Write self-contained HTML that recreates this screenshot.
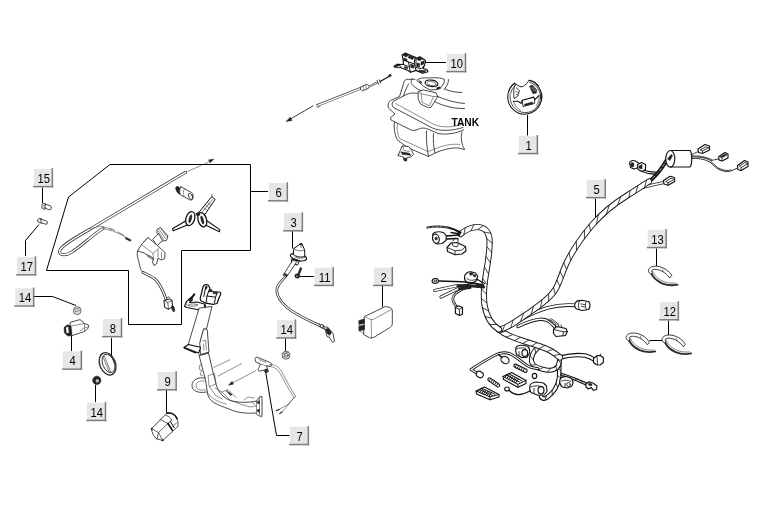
<!DOCTYPE html>
<html><head><meta charset="utf-8"><title>Parts diagram</title>
<style>
html,body{margin:0;padding:0;background:#fff;}
body{width:767px;height:531px;overflow:hidden;font-family:"Liberation Sans",sans-serif;}
svg{display:block;will-change:transform}
.n{font-family:"Liberation Sans",sans-serif;font-size:12.5px;text-anchor:middle;fill:#000}
.L{stroke:#000;stroke-width:1;fill:none}
.p{stroke:#2a2a2a;stroke-width:.85;fill:none;stroke-linecap:round;stroke-linejoin:round}
.pw{stroke:#2a2a2a;stroke-width:.85;fill:#fff;stroke-linecap:round;stroke-linejoin:round}
.pt{stroke:#444;stroke-width:.6;fill:none;stroke-linecap:round;stroke-linejoin:round}
.d{fill:#222;stroke:#222;stroke-width:.6}
.g{fill:#999;stroke:#333;stroke-width:.7}
.hv .pw,.hv .p{stroke:#111;stroke-width:1.15}
.hv .pt{stroke:#1a1a1a;stroke-width:.85}
</style></head><body>
<svg width="767" height="531" viewBox="0 0 767 531">
<rect width="767" height="531" fill="#fff"/>
<!-- ===== leaders ===== -->
<g class="L">
<path d="M110,164.5 H250.5 V250.5 H181.5 V324.5 H128.5 V270.5 H46.5 L68.5,197 Z"/>
<path d="M250.5,191.5 H268"/>
<path d="M42.5,187.500 V203"/>
<path d="M25.5,256 V240.5 L39,224.5"/>
<path d="M34,296.5 H52.5 L76,305.5"/>
<path d="M71.5,336 V351"/>
<path d="M111.5,338 V357"/>
<path d="M95.5,385 V402"/>
<path d="M166.5,390 V412.5"/>
<path d="M292.5,231 V248.5"/>
<path d="M299,276.5 H314"/>
<path d="M382.5,286 V307"/>
<path d="M285.5,338.5 V351"/>
<path d="M265.800,372.500 L270.500,401 L276.500,435.500 H289.500"/>
<path d="M424,62.5 H446"/>
<path d="M527.5,115 V135.5"/>
<path d="M595.5,198.5 V219.5"/>
<path d="M656.5,248.5 V266"/>
<path d="M668.5,320.5 V335 M649.500,340.500 H662"/>
</g>

<!-- ===== cable in group 6 ===== -->
<g fill="none" stroke-linecap="round">
<path id="cb" d="M185.5,172.3 L92,228 C78,236 62,245 60,250 C58,255.5 65,256 71,252.5 C82,246 92,235 103,228.5" stroke="#333" style="stroke-width:3"/>
<path d="M185.5,172.3 L92,228 C78,236 62,245 60,250 C58,255.5 65,256 71,252.5 C82,246 92,235 103,228.5" stroke="#fff" style="stroke-width:1.5"/>
<path class="pt" d="M103,228.5 L113,231 L122,235 L131,240.5 M110,229 l5,1.2 M118,232 l6,3.5 M90,229 L100,226 L112,229"/>
<path class="d" d="M126,237.5 l5,2.4 l-.6,1.3 l-5,-2.4z"/>
<path class="pt" d="M188,171.2 L201,165.6 M204,164.2 L210,161.4"/>
<path class="d" d="M213.5,159.3 l-4.8,.6 l1.3,2.6z"/>
</g>

<!-- lock cylinder -->
<g>
<ellipse class="d" cx="178.6" cy="190.3" rx="2.2" ry="4.2" transform="rotate(-28 178.6 190.3)"/>
<path class="pw" d="M181,186.8 L191.5,192.5 C194,194 193.6,199.5 190.8,200.3 L180.5,195 C179,192 179.5,188.5 181,186.8Z"/>
<ellipse class="p" cx="190.6" cy="196.4" rx="1.8" ry="3.4" transform="rotate(-28 190.6 196.4)"/>
<path class="pt" d="M184.5,188.8 C183,191 183,194 184,196.6"/>
</g>

<!-- keys -->
<g>
<path class="pw" d="M198,213.500 L211.800,196.500 L215.200,199.300 L203.500,216.500Z" style="stroke:#111;stroke-width:1"/>
<path class="pt" d="M201,213.500 L212.500,199.500 M204,208 l2.500,1.800 M206,205.500 l2.500,1.800 M208,203 l2.500,1.800 M211.800,196.500 l.3,-2" style="stroke:#222"/>
<path class="pw" d="M187.500,225 L173.200,230.800 L172.500,228.800 L185.500,221Z" style="stroke:#111;stroke-width:1.100"/>
<path class="pw" d="M204.500,224.500 L219.300,231.800 L219.800,229.600 L206.500,220.500Z" style="stroke:#111;stroke-width:1.100"/>
<ellipse class="pw" cx="190.300" cy="218.600" rx="4.300" ry="7.200" transform="rotate(18 190.300 218.600)" style="stroke:#111;stroke-width:1.300"/>
<ellipse class="d" cx="190.300" cy="218.800" rx="1.100" ry="4.200" transform="rotate(14 190.300 218.800)"/>
<ellipse class="pw" cx="202.300" cy="219.800" rx="4.200" ry="7.300" transform="rotate(-16 202.300 219.800)" style="stroke:#111;stroke-width:1.300"/>
<ellipse class="d" cx="202.300" cy="220" rx="1.100" ry="4.200" transform="rotate(-14 202.300 220)"/>
<path class="d" d="M196,213.500 l3,-1.500 l1,3 l-3,1z"/>
</g>

<!-- ignition switch -->
<g>
<path class="pw" d="M157.5,229 L160.5,227.5 L168,236 L166.5,240.5 L162,241 L157,233Z"/>
<path class="pt" d="M159,229.5 L165.5,238.5 M160.8,228.2 l6,8.5 M158,231 l5.5,8.5"/>
<path class="pw" d="M153,239 L158.5,233.5 L162.5,240.5 L157.5,245.5Z"/>
<path class="pw" d="M141.5,244.5 L148,237.5 L158,246 L165,252.5 L164.8,258.5 L161,260 L158,258 L156.5,264 L154,265.5 L152.5,262 L153.5,259 L144,253 L137.5,251 L141.5,244.5Z"/>
<path class="pt" d="M141.5,244.5 L153,253.5 L153.5,259 M148,237.5 L141.5,244.5 M153,253.5 L159,248 M147,256 l6,4 M148,254.5 l6,4 M158,250 l0,7 M161.5,252 l0,6"/>
<path class="p" d="M137.500,251 C136.500,255 138,258.500 139,262.500 C140,266.500 140.300,270 143,272.500"/>
<path d="M143,272.500 C147,274.500 152,276 156,280 C160,284.500 162.500,290 164.500,295 L166.300,300" fill="none" stroke="#2a2a2a" stroke-width="2.800" stroke-linecap="round"/>
<path d="M143,272.500 C147,274.500 152,276 156,280 C160,284.500 162.500,290 164.500,295 L166.300,300" fill="none" stroke="#fff" stroke-width="1.200" stroke-linecap="round"/>
<path class="pw" d="M164.300,300.500 L169.500,299 L172,300.500 L172.500,306.500 L168.500,309.300 L165,307.500Z" style="stroke:#111;stroke-width:1"/>
<path class="pt" d="M164.300,300.500 L167.800,302.500 L168.500,309.300 M167.800,302.500 L172,300.500 M166.500,298.500 l1.500,-1.800 l2,1" style="stroke:#111"/>
<path class="d" d="M172,305.500 l2,1.200 l.8,4.500 l-1.800,.3 l-1.500,-3.500z"/>
</g>
<!-- part 15 clip -->
<g>
<ellipse cx="44" cy="206.3" rx="2.4" ry="3" fill="#ccc" stroke="#444" stroke-width=".8"/>
<path class="pw" d="M45.5,204.2 L50.5,205.8 C52,207 51.5,209.5 50,209.8 L45.5,208.6Z"/>
</g>
<!-- part 17 -->
<g>
<ellipse class="pw" cx="40.5" cy="220.8" rx="3" ry="2.2" transform="rotate(20 40.5 220.8)"/>
<path class="pw" d="M41,219.3 L46.500,221 C48,222 47.500,224.300 46,224.300 L41.500,222.800Z"/>
</g>
<!-- nut 14a -->
<ellipse cx="77.2" cy="310.6" rx="3.9" ry="4" fill="#ddd" stroke="#555" stroke-width=".8"/>
<path class="pt" d="M74.500,309.500 l5,-1.500 M74.800,311.800 l5.200,-1.500"/>
<!-- relay 4 -->
<g>
<path class="pw" d="M70.600,322.200 L80,319.600 L84.500,323.500 L88.800,325.200 L88,328.500 L84.500,331.500 L71.500,335.800 L70,327Z"/>
<path class="d" d="M64,327.500 L67.500,324.800 L71,326 L72,335.600 L67.800,336 L64.500,333Z"/>
<path class="pt" d="M71,326 L84.500,323.500 M84.500,331.500 L84.500,323.500 M80,331 l4,-3 l4,-1"/>
<path d="M66,327.500 l2.200,-.8 l.6,6 l-2.200,.5z" fill="#fff"/>
</g>
<!-- ring 8 -->
<g transform="rotate(-22 107.6 363.8)">
<ellipse class="pw" cx="107.600" cy="363.800" rx="7.800" ry="11.600" style="stroke-width:1.300"/>
<ellipse class="p" cx="108.600" cy="363.800" rx="5.800" ry="9.600"/>
<path class="pt" d="M106,355.500 V372.500 M107.500,355 V373 M114,360 v8 M115.500,361 v6"/>
</g>
<!-- nut 14c -->
<g>
<ellipse class="d" cx="96.800" cy="380.400" rx="4.100" ry="4.200"/>
<ellipse cx="97.300" cy="380.800" rx="1.700" ry="1.900" fill="#bbb"/>
</g>
<!-- part 9 -->
<g>
<path class="pw" d="M151.500,428.700 L167,413.200 C171,412.300 175,414.500 177,418.500 C178,421 178.200,423.500 177.900,426.400 L162.800,440.500 L157,439 C154,437 151.800,433 151.500,428.700Z"/>
<path class="p" d="M167,413.200 C171,412.300 175,414.500 177,418.500" style="stroke:#111;stroke-width:1.700"/>
<path class="pt" d="M151.500,428.700 L158.500,432.500 L162.800,440.500 M160,419.300 L168,423.500 L158.500,432.500 L157,439 M168,423.500 L171.800,420 M171.800,420 C170.500,417.500 168.500,416 166,415.500 M176.500,423 L172.800,426.500" style="stroke:#222;stroke-width:.7"/>
<path class="p" d="M168,423.500 L172.200,430.100" style="stroke:#111;stroke-width:1.700"/>
<path class="p" d="M170.300,421.200 L174.100,427.800" style="stroke:#111;stroke-width:1"/>
<circle class="d" cx="151.800" cy="428.800" r=".8"/><circle class="d" cx="162.600" cy="440.200" r=".8"/>
</g>

<!-- ===== frame ===== -->
<g>
<!-- small left bracket -->
<path class="pw" d="M184.500,306.500 L186.500,301.500 L191,297.500 L192.500,299.500 L189.500,302.500 L197,302 L204.500,304 L205.500,310.500 L199.500,310 L187,307.500Z" style="stroke:#111;stroke-width:1.100"/>
<path d="M189.800,300.200 L194.300,294.300" stroke="#111" stroke-width="2" stroke-linecap="round" fill="none"/>
<path d="M204.800,304.500 L205.300,311" stroke="#111" stroke-width="2" fill="none"/>
<path class="pt" d="M189,304.500 C191,303.500 195,303.800 198,304.800 C196,306.500 192,306.500 189,305.800Z M186,303.500 l1.500,2" style="stroke:#222"/>
<!-- top bracket -->
<path class="pw" d="M200.200,298.500 L203,287 C203.800,284.300 207,283.800 208.500,285.500 L210,288.500 L208.600,291.500 L219.500,292 C221.200,292.500 221,294.500 219.800,296 L217,303.500 L213,304.300 L206,303.200 L200.500,300.500Z" style="stroke:#111;stroke-width:1.200"/>
<path class="p" d="M205.800,287 L203.800,296.500 M208.600,291.500 L207,296 L206,303 M207,296 L215.500,297.200 L214.500,302.800 M215.500,297.200 L217,293.500" style="stroke:#111;stroke-width:1"/>
<path class="d" d="M209.500,289.500 l2.500,.2 l0,1.800 l-2.500,-.2z M213.500,292 l4,.5 l-.5,1.500 l-4,-.5z M206,285.800 l1.300,.8 l-.8,2.500 l-1.300,-.5z"/>
<!-- main tube -->
<path class="pw" d="M199.500,308 L212,306.500 L206,331 L208.500,353 L199.500,355.500 L196,348 L188.500,345 Z"/>
<path class="pt" d="M203.500,329 L206,331 M203.500,329 L200,342 M203.500,329 C206,327 207.500,329 207,331.500"/>
<!-- gusset -->
<path class="pw" d="M203.500,330 C205.500,327.500 208,329.500 207.500,333 L209,352 L200.500,354.500 L199.800,343.500Z"/>
<path class="pt" d="M202.500,341 L205.500,340 L206.500,350 M203.500,344 l.4,6"/>
<!-- lower bracket -->
<path class="pw" d="M184,347.500 L188.500,344.500 L200.500,347.300 L199,352.300 L195.500,352.800 Z" style="stroke:#111;stroke-width:1.100"/><path d="M184.500,347.800 L195.500,352.300" stroke="#111" stroke-width="1.800" fill="none" stroke-linecap="round"/>
<path class="pt" d="M186,348.500 l11,3.500"/>
<!-- lower tube -->
<path class="pw" d="M199.500,355.500 L208.500,353.200 L213,372 L216,384 C218,392 224,399 232,401 C240,403 250,402.500 256.500,401 L259.500,397 L262,396.500 L262,416.500 L258,415.500 L256,413 C246,413.800 236,412.500 229,409 C217,404.500 208.500,402 207.500,393 L205.500,380Z"/>
<path class="pt" d="M208.500,375.500 L214.500,373.500 L216,384 L209.500,386.500Z M209.500,386.500 L215,395 L222,399 M215,388 L222,392 L230,400 M222,392 L228,389.500 L236,397.500 M230,400 L240,404 L250,407 L256,406 M244,400 l4,-3 l6,1 M256.500,401 L256.500,413 M259.500,397 L259.500,414.500 M252,402 l3,3 M207.500,393 C211,398 218,402 226,404"/>
<path class="d" d="M256.700,402.500 l2.600,-2 l0,3.500z M256.700,410.500 l2.600,-1.500 l0,3.500z M226,390.500 l6,4 l-1.500,1z"/>
<!-- horn / side ring -->
<path class="p" d="M205.500,378.200 C198,376.500 192,380 192,385.500 C192,391 198,393.500 206.500,392"/>
<path class="pt" d="M205,381 C199.500,380 196,382.500 196,385.800 C196,389.500 200,390.800 206,389.800 M201.500,364.500 l-2,1 l.2,4.500 l2.400,.5 M201.800,371 l-1.500,1.500 l.5,3 l2,.3"/>
<!-- dimension lines and arrow -->
<path class="pt" d="M214,367.300 L229.700,359.800 M218.200,376 L241.500,363.600 M256,370.600 L230.500,384"/>
<path class="d" d="M228.600,385.100 l4.800,-1 l-1.400,-2.700z"/>
</g>

<!-- part 7 bracket and wire -->
<g>
<path class="pw" d="M255,359 C254.500,357.500 256.500,356.800 258,357.500 L270,362.500 C272.500,363.500 272,366 270,366.200 L266.500,365.800 L268.500,371.500 L266,373 L263,370 L260,371.300 C258,371 257.500,369 259,367.500 L260.500,364 L256,362Z"/>
<path class="pt" d="M259,359.500 l7,3 M260.500,364 L266.500,365.800"/>
<path class="d" d="M264.500,369.500 l2.500,-.5 l.8,2.500 l-2.500,.8z"/>
<path class="pt" d="M270,364.500 C276,364 280,368 283,374 C287,382 292,390 295.500,396.500 M268.500,366.300 C275,366.500 278.500,370 281,375 C285,383 290,391 294,397.500 M295.500,396.500 L287,405 L279,409.500 M294,397.500 L289,404 L282,412"/>
<path class="p" d="M279,409.500 l-2.500,1.200 M282,412 l-2.300,1.500" style="stroke-width:1.300"/>
</g>

<!-- nut 14b -->
<g>
<ellipse cx="286" cy="355.200" rx="3.900" ry="4" fill="#e4e4e4" stroke="#444" stroke-width=".8"/>
<ellipse class="pt" cx="286.300" cy="355.300" rx="1.900" ry="2" fill="#fff"/><path class="pt" d="M283.200,354 l5,-2 M283,357 l5.500,-2.200"/>
</g>

<!-- part 3 switch and wire -->
<g>
<path class="pw" d="M291.300,259.500 L292,263.800 L297.500,265 L299.300,261Z" style="stroke:#111;stroke-width:1"/>
<ellipse class="pw" cx="298.500" cy="257" rx="8.300" ry="3.500" transform="rotate(14 298.500 257)" style="stroke:#111;stroke-width:1.100"/>
<path class="pw" d="M293.300,254.500 L293.800,248.500 L300.500,243.800 L302.300,244.300 L304.600,250 L304.800,256.300 C301,257.800 296.500,257 293.300,254.500Z" style="stroke:#111;stroke-width:1"/>
<path class="pt" d="M293.800,248.500 C297,251 301,251.500 304.600,250 M300.500,243.800 l.7,3.800 M295,256.800 C298,258.500 302,258.800 305,257.300" style="stroke:#222"/>
<path class="d" d="M300.200,243.300 l1.800,.3 l-.3,1.500 l-1.500,-.2z M294,258.800 l4,1 l-.3,1.300 l-4,-1z"/>
<path class="pw" d="M293,260.500 L297,261.300 L286.500,277 L283.500,275.500Z"/>
<path class="d" d="M284.500,273.200 l3,1.600 l-.7,1.100 l-3,-1.600z"/>
<path class="p" d="M285.600,276.500 C281,282 276.500,285 276.800,291 C277.200,297 282,303 287,307.500 C296,315 308,320 318.500,325 L324,328" style="stroke-width:2.600"/>
<path d="M285.600,276.500 C281,282 276.500,285 276.800,291 C277.200,297 282,303 287,307.500 C296,315 308,320 318.500,325 L324,328" stroke="#fff" stroke-width="1.100" fill="none"/>
<path class="pw" d="M323.500,326.500 L328,327.500 L333,333.500 L334.500,341.500 L332.500,342.300 L329.500,337.500 L327,336.500 L325.500,331Z"/>
<path class="pt" d="M319.500,323.500 l1.500,3.500 M328,327.500 L329.500,337.500 M327.500,332 l3,1"/><ellipse class="pw" cx="321.800" cy="326" rx="1.700" ry="1.500" style="stroke:#222"/><path class="d" d="M325.500,329 l3,-.5 l3,4 l-1.500,2.500 l-3,-1.500z"/>
</g>
<!-- screw 11 -->
<g>
<path class="d" d="M300.300,267.600 l1.600,.6 l-2.500,6.500 l-1.600,-.6z"/>
<ellipse class="d" cx="297.300" cy="276" rx="2.500" ry="2.200"/><ellipse cx="297" cy="276.200" rx=".9" ry=".8" fill="#bbb"/>
</g>
<!-- CDI 2 -->
<g>
<path class="pw" d="M364.500,316.500 L385.500,306.500 L390,307.500 C392,308.500 392.500,310 392.300,312 L392.300,324 C392,326 391,327 389.500,327.800 L374,337.300 C372,338.200 370,338.200 368,337 L364,334.800 Z"/>
<path class="pt" d="M364.500,316.500 L370,319.300 C371.500,320 372.500,319.800 374,319 L391.500,309.500 M371.200,320 L371.500,337.600"/>
<path class="d" d="M359,320.500 L364.500,319 L364.500,323.300 L359,324.500Z M359,326.200 L364.500,325 L364.500,329.800 L359,330.800Z"/>
<path class="pt" d="M359,320.500 L359,330.800 L364,333.500"/>
</g>
<!-- ===== top arrow + cable ===== -->
<g>
<path class="pt" d="M313,105.900 L290,119.200" style="stroke:#222;stroke-width:.9"/>
<path class="d" d="M286.200,121.400 l5.800,-1 l-1.800,-3.100z"/>
<path class="p" d="M317,105.600 L362,87.800" style="stroke-width:2.700;stroke:#444;stroke-linecap:butt"/>
<path d="M316.500,105.800 L362,87.800" stroke="#fff" stroke-width="1.300" fill="none"/>
<path class="pt" d="M316.600,104 l.7,3.400 l2.800,-1" style="stroke:#333"/>
<path class="pw" d="M361,86.800 L367,84.300 L369.300,86.300 L368.500,88.300 L362.500,90.800 L360.800,89.300Z" style="stroke:#222;stroke-width:.8"/>
<path class="pt" d="M363,86.300 l1.200,3.800 M365.500,85.300 l1.200,3.800"/>
<path class="p" d="M369,86.600 L377,82.600" style="stroke-width:2;stroke:#333;stroke-linecap:butt"/>
<path d="M369,86.600 L377,82.600" stroke="#fff" stroke-width=".8" fill="none"/>
<path class="p" d="M377,80.500 l1.600,3.800 M379.300,79.800 l1.300,3.300" style="stroke:#222;stroke-width:.9"/>
<path class="p" d="M380.500,81.300 L389.500,76.300" style="stroke:#111;stroke-width:1.200"/>
<path class="d" d="M388.500,75.300 l2,-1.200 l.9,1.600 l-2,1.200z"/>
</g>

<!-- ===== lock 10 ===== -->
<g class="hv">
<path class="pw" d="M394,66.200 L397.200,64.300 L403.400,64.500 L403.200,60 L402,54.900 L405.300,53 L415.100,57.200 L416,58.200 L419.900,56.800 L425.500,60.500 L424.600,65.300 L423,68.500 L426.900,69.500 L427.900,71.800 L422.700,73.300 L416,70.400 L410.400,72.300 L408.500,70.700 L401,67.800 L395,67.500Z"/>
<path class="p" d="M403.200,60 L408.500,62 L410.400,72.300 M408.500,62 L414.200,63.800 L415.100,57.200 M414.200,63.800 L416,70.400 M416,58.200 L416,67.600 L421.300,68.500 L424.600,65.300 M403.400,64.500 L408.500,66.700 M397.200,64.300 L401,66.500" style="stroke:#111;stroke-width:1"/>
<path class="d" d="M402.500,55 L405.300,53.300 L409,55 L406,57Z M409.500,55.500 l4.500,2 l-1.500,2 l-4.500,-2z M404,58 l3,1.200 l0,2.200 l-3,-1.200z M416.500,58.800 l3.400,-1.500 l2.600,1.800 l-3.500,1.800z M421,62 l3.300,-1.200 l-.5,3.200 l-2.800,1.200z M410.500,64.200 l3,.8 l.4,3.200 l-3,-.8z M417,63 l2.500,.5 l0,3.500 l-2.500,-.5z M419,70 l4,.8 l2.500,-.8 l-.5,1.800 l-3,.8 l-3,-1.200z M394.500,66 l3,-1.200 l1.500,.8 l-3,1.500z M404.500,66.500 l3,1 l0,1.500 l-3,-1z"/>
</g>

<!-- ===== tank ===== -->
<g>
<!-- neck ring -->
<path class="pw" d="M417,80 C419,78 424,77.500 428,78 C434,77.500 441,77.500 444.500,79.500 L444,83 L441,87.500 L437,89.500 L430,90 L424,86.500Z"/>
<ellipse class="p" cx="431.500" cy="83.300" rx="6.500" ry="3.200" transform="rotate(8 431.500 83.300)" style="stroke:#111;stroke-width:1.200"/>
<ellipse class="pt" cx="431.500" cy="83.500" rx="4.600" ry="2" transform="rotate(8 431.500 83.500)"/>
<path class="d" d="M436.500,87.800 l3,-1 l1,1.500 l-3,1.200z M419,80.500 l3,1.800 l-1,1z"/>
<path class="p" d="M448.500,79.500 C449,82 447,86 444.500,89"/>
<!-- body upper outline -->
<path class="p" d="M415,79.300 L406.500,79.300 C404.500,80 403.800,82 403.500,84 L399.500,96.500 L390.500,100.500 C388,102 387.500,105.500 388.500,108 L395,114 L390.500,117.500 L391,120 L411.500,130.200 C414.500,131 417.500,129.500 420.500,128.300 C424,127.500 427,128.500 430,130 L438,133.500 C446,135 456,133.500 463.500,130"/>
<path class="p" d="M408.500,84 C406.500,88 404.500,92 403.500,96 L393,101.500 C391.500,103.500 392,106 393.500,107.500 L432.500,128 C440,131.500 452,131 463,127.500"/>
<path class="pt" d="M395.500,103.500 L434,124.500 C442,128 454,127.500 463.500,124"/>
<path class="p" d="M412.300,78.400 C410,81 411,84 414,86.500 C416.500,88.500 419,90 421,90.500 M403.500,96 C408,93 413,92.500 418,93.500"/>
<!-- cap -->
<path class="pw" d="M418.500,91.500 L423.500,90 L436,92.800 L437.800,96.500 L431,107.300 L428.500,107.800 L420.500,104 L418.300,99Z"/>
<path class="pt" d="M421.500,93.800 L433.500,96.500 L429.500,105.800 L422.500,102.500Z M418.500,91.500 L421.500,93.800 M437.800,96.500 L433.500,96.500"/>
<!-- right side curves -->
<path class="p" d="M437.500,96.500 C445,99.500 455,103 464.500,103.500 M434.500,101.500 C443,106 455,109 464.500,108.500 M444.500,89 C449,91 455,92.500 462,92.500"/>
<!-- lower body -->
<path class="p" d="M394.500,122 C393.500,127 394.500,134 397,139.500 L404,145 L412,149.500 L428.500,156.500 L435,153 C443,149.500 452,147.500 459,148 L464,149.500"/>
<path class="pt" d="M397.500,124 C396.500,129 397.500,134 399.500,138.500 L428,151.500 L436,148.500 C444,145 453,143.500 460,144.500"/>
<path class="p" d="M426.500,131 C426,139 427,148 428.500,156.500 M433.500,133.500 C433,140 433.500,147 435,153 M462,132 C460.500,138 461.500,144 464.500,149.500"/>
<!-- bottom fitting -->
<path class="pw" d="M402.500,146 L408.500,146.500 L411.500,150 L413.500,154.500 L411,157 L407,157.500 L406.500,161 L404,160.500 L403.500,157 L398,155.500 L400,151Z"/>
<path class="d" d="M401.500,152 l8,1.300 l1.500,2 l-9,-1z M404,158 l2.500,.3 l0,2.500 l-2,-.5z"/>
<path class="pt" d="M402.500,146 L404,150.500 L409.500,151.500 M397.500,155.300 l4,-4"/>
</g>

<!-- ===== ring 1 ===== -->
<g>
<path class="p" d="M514.500,83.200 A17,17.200 0 1 0 529,80.300" style="stroke:#111;stroke-width:1.100"/>
<path class="p" d="M515.800,85 A15.300,15.500 0 1 0 529.500,82.200" style="stroke:#222;stroke-width:.8"/>
<path class="p" d="M514.500,83.200 C516.500,84 518.500,86.500 521,86.800 C524.500,86.800 527,83.500 529,80.300 C532.500,80.500 536,82.500 538.500,85.500" style="stroke:#111;stroke-width:1"/>
<path class="p" d="M515.200,84.500 C513.500,88 513.300,93 514,98.500 L517.500,96.500 L519.500,90.500 L516.500,88" style="stroke:#222;stroke-width:.9"/>
<path class="pt" d="M515.500,91.500 l3,1 M516,94.500 l2,.6" style="stroke:#222"/>
<path class="d" d="M529.500,86.300 l3,-1.200 l4.300,5 l-.5,2.800 l-3.300,.8z"/>
<path d="M531,87.300 l3.800,4.500 M532.500,86.500 l3.500,4.500" stroke="#fff" stroke-width=".5" fill="none"/>
<path class="p" d="M513.500,101.300 L518,101.300 L521,103.400 L522.300,100.300 L533.800,97.100 L534.800,99.700 L539,95.600" style="stroke:#111;stroke-width:1.100"/>
<path class="p" d="M522.300,100.300 L523,106.500 L534.500,103.500 L534.800,99.700" style="stroke:#222;stroke-width:.9"/>
<path class="d" d="M524.500,104.200 l8,-2.200 l.4,1.600 l-8,2.300z"/>
<path class="pt" d="M539,95.600 C539.500,99 538.500,102.500 536.500,105.500 M513.500,101.300 C514.500,105 517,108.500 520.500,110.500" style="stroke:#222"/>
<path class="d" d="M540.600,93.500 l1.300,.2 l0,5 l-1.300,-.3z"/>
<path d="M509.300,93 l1.800,0 l0,4 l-1.800,0z" fill="#aaa"/>
</g>

<!-- ===== harness ===== -->
<defs>
<path id="bA" d="M499,329.500 C506,329 516,321.500 530,312 C541,304.500 550,298 555,290 C560,282 562,272 567,262 C572,252 581,238 592,225 C602,213.500 615,203 628,195 C636,190 642,186 649,181.500"/>
<path id="bB" d="M460.500,234 C466,229.500 472,226.800 478,227 C484.500,227.500 488.500,231 489.500,239 C490.300,248 488.500,259 486.300,272 C484,285 483,295 484.500,305 C486,314 490,324 499,329.500"/>
<path id="bC" d="M499,329.500 C505,335 515,338.500 525,341.500 C535,344.500 545,347.500 551,351 C556,354 558,356 560,357.500"/>
<path id="bD" d="M538,347.500 C534,351 531,356 531.500,361 C532,365.500 538,368.500 546,370 C552,371 557,369 558.500,365 C559.500,361.500 559.500,359.500 560,357.500"/>
<path id="w1" d="M514,323.500 C525,316.500 536,311.500 547,308 C556,305.500 565,304.500 575,305.300"/>
<path id="w2" d="M518,326.500 C526,322.500 534,319.800 540,319.300 C547,318.800 551,322.500 556,328.500"/>
<path id="w3" d="M560,357.500 C568,355.500 578,354.500 585,355.500 C589,356.300 592,358 594.500,359.800"/>
<path id="w4" d="M477.500,373.500 L471,369.500 C478,365 488,358.500 497,354.300 C502,352 507,352.300 511.500,354.500 C517,357.500 522,362 527,365.500 C531,368 534,368.500 538,368.800"/>
<path id="w5" d="M559.500,359 C559,365 559.500,372 559,378 C558,386 553,393 547,397.500 C544,399.500 541,398.500 541,396"/>
<path id="w6" d="M562,374.500 C570,377 580,381 588,384.800"/>
<path id="w7" d="M649,181.500 C653,178.500 659,172 663,166 C665.500,162 667.500,159 669.500,156.500"/>
<path id="w8" d="M638,188.500 C646,186.500 656,184 664,182.500"/>
<path id="w9" d="M466.600,287.200 C460,290 453,294 452.800,298.500 C452.600,302 455,304.500 456.500,306.800"/>
</defs>
<g fill="none" stroke-linecap="round" stroke-linejoin="round">
<!-- secondary wires (under) -->
<use href="#w1" stroke="#111" stroke-width="3.700"/><use href="#w1" stroke="#fff" stroke-width="1.900"/>
<use href="#w2" stroke="#111" stroke-width="3.300"/><use href="#w2" stroke="#fff" stroke-width="1.500"/>
<use href="#w8" stroke="#222" stroke-width="3"/><use href="#w8" stroke="#fff" stroke-width="1.500"/>
<use href="#w5" stroke="#111" stroke-width="4.600"/><use href="#w5" stroke="#fff" stroke-width="2.300"/><path d="M557.9,361.1L560.8,363.5M557.8,368.4L560.7,370.7M557.7,375.5L560.5,378.0M556.2,383.2L557.6,387.3M552.1,390.4L552.3,394.8M546.2,396.2L545.2,399.9" stroke="#222" stroke-width=".85" fill="none"/>
<use href="#bD" stroke="#111" stroke-width="5"/><use href="#bD" stroke="#fff" stroke-width="3"/><path d="M534.8,348.1L535.7,352.8M530.2,356.1L533.2,359.8M531.3,365.1L536.2,364.7M538.6,369.9L543.1,367.5M547.5,372.0L550.6,368.4M556.4,370.1L556.0,365.8M560.8,363.1L557.8,359.6" stroke="#222" stroke-width=".85" fill="none"/>
<use href="#w3" stroke="#111" stroke-width="4.400"/><use href="#w3" stroke="#fff" stroke-width="2.300"/>
<use href="#w4" stroke="#111" stroke-width="2.900"/><use href="#w4" stroke="#fff" stroke-width="1.100"/>
<use href="#w6" stroke="#111" stroke-width="3.200"/><use href="#w6" stroke="#fff" stroke-width=".900"/><path d="M563.7,376.0L565.2,374.6M569.1,377.9L571.0,376.7M574.9,380.1L576.7,378.9M580.8,382.5L582.6,381.3" stroke="#222" stroke-width=".85" fill="none"/>
<use href="#w9" stroke="#222" stroke-width="2.600"/><use href="#w9" stroke="#fff" stroke-width="1"/>
<!-- dark bundle to capacitor -->
<use href="#w7" stroke="#1a1a1a" stroke-width="4"/>
<use href="#w7" stroke="#fff" stroke-width=".6" stroke-dasharray="3 2"/>
<!-- main bands -->
<use href="#bC" stroke="#1a1a1a" stroke-width="6.200"/><use href="#bC" stroke="#fff" stroke-width="4.300"/><path d="M499.4,333.0L505.4,331.2M506.3,337.2L512.5,334.6M514.4,340.6L520.4,337.5M522.8,343.4L529.0,340.1M531.4,346.0L537.2,342.7M539.2,348.6L545.0,345.5M546.6,351.5L553.2,349.4M553.6,355.6L560.0,354.4" stroke="#222" stroke-width=".85" fill="none"/>
<use href="#bA" stroke="#1a1a1a" stroke-width="6.200"/><use href="#bA" stroke="#fff" stroke-width="4.300"/><path d="M502.3,331.4L504.6,325.3M510.7,327.7L513.1,320.5M520.5,321.4L523.7,313.3M531.2,314.2L533.4,306.7M540.5,307.6L541.9,300.3M548.6,301.1L548.7,294.1M555.2,294.1L553.6,287.6M559.8,286.3L557.0,280.3M563.2,277.9L560.2,271.9M566.5,269.2L563.9,262.8M570.6,260.4L569.1,252.9M576.6,250.1L576.3,241.7M584.4,238.7L584.5,230.4M590.5,230.7L589.3,224.4M596.6,223.6L598.3,214.8M606.5,213.9L609.2,205.3M617.5,205.1L620.8,196.7M628.9,197.3L630.2,190.7M635.9,192.9L637.7,185.9M644.6,187.2L646.5,180.2" stroke="#222" stroke-width=".85" fill="none"/>
<use href="#bB" stroke="#1a1a1a" stroke-width="6.200"/><use href="#bB" stroke="#fff" stroke-width="4.300"/><path d="M463.9,234.4L465.2,227.9M470.9,230.7L473.9,224.8M477.9,229.5L483.2,225.7M484.2,232.1L490.6,233.2M487.0,238.8L492.1,243.0M487.2,247.1L491.7,252.4M486.2,256.5L490.3,262.8M484.6,267.2L488.5,273.8M482.7,278.6L486.9,284.4M481.6,289.0L486.2,293.9M481.4,298.6L486.7,302.8M482.5,307.8L488.3,310.7M485.2,316.5L491.6,318.2M489.8,324.4L496.6,324.6" stroke="#222" stroke-width=".85" fill="none"/>
</g>

<!-- harness: capacitor and right connectors -->
<g class="hv">
<path class="pt" d="M691,155 C694,153.500 696,152.500 698.500,151.500 M691,157 C698,156.500 705,157.500 711,160.500 L719.500,158.800 M691,158.500 C698,158 704,159 710,162 C713,165 716,168 719,169.500 C723,171.500 727,172 731,171 L737.500,168" style="stroke:#222;stroke-width:.9"/>
<path class="pt" d="M691.500,156 C698,155.500 705,156.500 711.500,159.500 M711,161.500 C714,164.500 717,167.500 720,168.800 C724,170.500 728,171 731,170" />
<path class="pw" d="M670.300,150.500 L690,150.500 C692,152 692.500,165 690,167 L670.300,167Z"/>
<ellipse class="pw" cx="670.300" cy="158.800" rx="4.500" ry="8.300"/>
<path class="d" d="M667.500,159 l3.500,-4.500 l1.500,1 l-2.500,5z"/>
<!-- right connectors -->
<path class="pw" d="M698,149 L705,144.500 L709.500,146 L709.500,150 L702.500,153.500 L698.500,152.500Z"/><path class="pt" d="M700.500,149.800 l5.500,-3 l2,.8 M702.500,153.500 l0,-2.500 l6.500,-3.500 M700.500,149.800 l2,1.200"/>
<path class="pw" d="M718.800,156.500 L725,152.500 L728,154 L728,158 L722,161 L719,160Z"/><path class="d" d="M720,157 l5,-3 l2,.8 l-5,3z"/><path class="pt" d="M722,161 l0,-2.500"/>
<path class="pw" d="M737.500,165.500 L744.500,160.500 L748,162 L748,166.500 L741,170.500 L737.800,169.500Z"/><path class="pt" d="M739.500,166 l5.500,-3.500 l2,.8 M741,170.500 l0,-2.800 l6.500,-3.800 M739.500,166 l1.500,1.500"/>
<!-- lower small connector -->
<path class="pw" d="M663.500,180.500 L670,176.300 L674.500,177.500 L674.800,181.500 L668,185.300 L664,184Z"/><path class="pt" d="M666,181.300 l5,-3 l2.500,.8 M668,185.300 l0,-2.500 l6.500,-3.500 M666,181.300 l2,1.500"/>
<!-- left connectors -->
<path class="pt" d="M641,168.500 C646,171.500 652,172.500 659,172 M640,170.500 C646,173.500 652,174.500 658,174" style="stroke:#111;stroke-width:1.100"/>
<path class="pw" d="M629.500,163 C630,160.500 633,160 635.500,161 L638.500,163 L638.500,167.500 L634,169 L630.500,167.500Z"/><ellipse class="d" cx="632.300" cy="164.800" rx="1.700" ry="2.200"/>
<path class="pw" d="M637.500,164.500 L641.500,162.500 L645.500,164.500 L645.500,169.500 L642,171.500 L638,169.500Z"/><path class="d" d="M639,166 l3,-1.500 l0,4.500 l-3,-1z"/>
</g>

<!-- harness: top-left connectors -->
<g class="hv">
<path class="p" d="M427.500,227.500 C434,226 442,226.500 448,227.500 C453,228.500 457,230.500 460.500,232.500" style="stroke:#111;stroke-width:2.200"/>
<path class="p" d="M428,227.400 C434,226 442,226.500 448,227.500" style="stroke:#fff;stroke-width:.5;stroke-dasharray:2 2"/>
<path class="p" d="M446,236 L459.500,235 M446,239 L458,238.500 M451,232.500 L460,234" style="stroke:#111;stroke-width:1.300"/>
<path class="pw" d="M433,233.500 C436,231 441,231.500 444,233 L446.300,236 L446,240.500 L442,243.500 L437,244 C433,243 431.800,238 433,233.500Z"/>
<ellipse class="pw" cx="436" cy="238.700" rx="3.200" ry="4.600" transform="rotate(-15 436 238.700)"/><path class="d" d="M435,237.500 l2,-.5 l.3,2.500 l-2,.5z"/>
<path class="pw" d="M447,247.500 L451,243 L457,242.500 L465.500,246.500 L466,251 L462,254 L455,254.800 L447.500,251.500Z"/>
<path class="pt" d="M447,247.500 L455,250.800 L462,250 L465.500,246.500 M455,250.800 L455,254.800 M452,243 l1,3 l4,1 l1.500,-3 M453,241 l2,-3 l3,1 l0,3"/>
<!-- second group -->
<path class="pw" d="M464.500,276.500 C465,273.500 468,271.500 471,271.800 L475.500,273 L477.800,276 L476.500,280.500 L472,283.500 L467.500,283 C465.500,281.500 464.300,279 464.500,276.500Z"/>
<path class="d" d="M469.500,273 l3,-.5 l.5,2 l-3,.8z M473.500,274.500 l2.500,.5 l-.5,2 l-2,-.5z"/><path class="pt" d="M466.500,278 C468.500,280.500 472,281 475.500,279.500"/>
<path class="p" d="M476.500,279 L484.500,283.500 M473,283 L484,286.500" style="stroke:#111;stroke-width:1.200"/>
<path class="p" d="M438.500,281 L462,281.800 C470,282.500 477,283.500 483.500,285" style="stroke:#111;stroke-width:1.600"/>
<ellipse class="pw" cx="435.300" cy="280.900" rx="3.200" ry="2.400" style="stroke-width:1.100"/><ellipse class="pt" cx="435.300" cy="280.900" rx="1.300" ry="1"/>
<path d="M434.500,290.500 L456,285.800 L468,285.500 L483.500,287" stroke="#222" stroke-width="3.200" fill="none" stroke-linecap="round"/><path d="M434.500,290.500 L456,285.800" stroke="#fff" stroke-width="1.700" fill="none" stroke-linecap="round"/>
<path d="M441,297 L457.500,289 L470,287.500" stroke="#222" stroke-width="3.200" fill="none" stroke-linecap="round"/><path d="M441,297 L457.500,289" stroke="#fff" stroke-width="1.700" fill="none" stroke-linecap="round"/>
<path class="pw" d="M455.300,307.500 L458.500,305.800 L462.500,307.500 L462.500,314 L459.500,315.500 L455.500,313.500Z"/><path class="pt" d="M455.300,307.500 L459.300,309.300 L459.500,315.500 M459.300,309.300 L462.500,307.500"/>
</g>

<!-- harness: mid-right connectors -->
<g class="hv">
<path class="pw" d="M575.500,302.500 C577,300.500 580,300.300 583,300.500 L588.500,301.500 C590.500,303 590.500,307.500 588.500,309.500 L582,310.500 L576.500,309 C574.500,307.500 574.500,304.500 575.500,302.500Z"/>
<path class="pt" d="M579.500,301 C578,303.500 578,307 579.500,309.800 M586,302 C585,304.500 585,307.500 586.500,309.800 M581,304 l3.500,.5 M581.500,306.500 l3,.4"/>
<path class="pw" d="M553.500,329.500 L556.500,326.500 L566,328.500 L567.300,331.500 L565.500,335.500 L556,336.500 L553.500,333.500Z"/>
<path class="pt" d="M553.500,329.500 L563.500,331.800 L567.300,331.500 M563.500,331.800 L563,336 M556,326.500 l-1,-2 M559,327 l-1,-2.500 M562,327.500 l-1,-2.500"/>
<path class="pt" d="M547,319.500 L555,325 M549,318.800 L557,324.500 M551,318.500 L559,324.300" style="stroke:#222;stroke-width:.8"/>
<!-- end connector of w3 -->
<path class="pw" d="M593.500,358.500 L597,355.800 L600.500,355.500 L603.500,358 L603.300,362.500 L600,365 L596.500,364.800 L593.500,362.500Z"/><path class="pt" d="M597,355.800 L597.500,364.800 M600,355.500 l.5,-1.500"/>
<!-- connector of w6 -->
<path class="pw" d="M586,384 L589,381.800 L593,383 L597,386 L596.500,389.500 L593.500,390.300 L591,387.500 L588.500,389 L586,387Z"/><path class="d" d="M589,383 l3,1 l-.5,2 l-3,-1z"/>
</g>

<!-- harness: lower items -->
<g class="hv">
<!-- connector block near band C -->
<path class="pw" d="M516,347.500 C517,345.500 520,345 523,345.300 L528,346.500 C529.500,348 529.800,351 529.300,353.500 L527,357.300 L521.500,357.600 L516.500,354.500 C515.500,352 515.500,349.500 516,347.500Z"/>
<ellipse class="pw" cx="524.800" cy="353" rx="2.800" ry="3.400"/><path class="pt" d="M516.500,349 C519,347.500 523,347.500 526,348.500 M519,351.500 l0,4"/>
<!-- bulbs -->
<ellipse class="pw" cx="505" cy="360" rx="4.300" ry="3.400" transform="rotate(35 505 360)" style="stroke-width:1.100"/><path class="p" d="M498.500,354.500 L502,357.500" style="stroke-width:1.600"/>
<ellipse class="pw" cx="479.800" cy="374.500" rx="3.600" ry="3" transform="rotate(30 479.800 374.500)" style="stroke-width:1.100"/>
<ellipse class="pw" cx="534.500" cy="376" rx="2.200" ry="2.600" style="stroke-width:1.100"/>
<!-- lozenges -->
<path d="M515.500,365.800 L525.500,370.800" stroke="#111" stroke-width="4.400" stroke-linecap="round" fill="none"/><path d="M515.500,365.800 L525.500,370.800" stroke="#fff" stroke-width="2.200" stroke-linecap="round" fill="none"/><path d="M515.500,365.800 L525.500,370.800" stroke="#111" stroke-width="2.400" stroke-dasharray=".8 1.400" fill="none"/>
<path d="M489.500,379.500 L498,385.300" stroke="#111" stroke-width="4.400" stroke-linecap="round" fill="none"/><path d="M489.500,379.500 L498,385.300" stroke="#fff" stroke-width="2.200" stroke-linecap="round" fill="none"/><path d="M489.500,379.500 L498,385.300" stroke="#111" stroke-width="2.400" stroke-dasharray=".8 1.400" fill="none"/>
<!-- ribbed connectors -->
<path class="pw" d="M503,376.500 L511.500,372.500 L526,380.500 L526,383.500 L518,387.300 L503.500,379.500Z" style="stroke-width:1.100"/>
<path class="pt" d="M503,376.500 L517.800,384.300 L526,380.500 M517.800,384.300 L518,387.300 M506.500,375 l13,7 M509,373.800 l13,7 M507,378.300 l2.500,-3.500 M510.500,380 l2.500,-3.500 M514,381.800 l2.500,-3.500 M505,377.300 l2,-2.800 M508.800,379.200 l2.500,-3.500 M512.300,381 l2.500,-3.500 M515.800,382.800 l2.500,-3.500" style="stroke:#111;stroke-width:1"/>
<path class="pw" d="M476,391 L484.500,387 L499,394.500 L499,397 L490,399.800 L476.500,394Z" style="stroke-width:1.100"/>
<path class="pt" d="M476,391 L490,396.800 L499,394.500 M490,396.800 L490,399.800 M479.500,389.500 l13,6 M482,388.300 l13,6 M480,392.500 l2.500,-3.500 M483.500,394 l2.500,-3.500 M487,395.500 l2.500,-3.500 M478.300,391.800 l2,-2.800 M481.800,393.300 l2.500,-3.500 M485.300,394.800 l2.500,-3.500 M488.800,396.300 l2.500,-3.500" style="stroke:#111;stroke-width:1"/>
<!-- small bulb wire -->
<path class="p" d="M509,390 C512,393.500 516,395 520,394.500 C524,394 527,392.500 530,391" style="stroke-width:1.300;stroke:#111"/>
<ellipse class="pw" cx="507" cy="389" rx="2.300" ry="2" style="stroke-width:1.100"/>
<!-- lower block -->
<path class="pw" d="M530,385.500 C531,383 534,382 537,382 L543.500,383 L546.500,386 L547,391.500 L544,395 L538,395.300 L531,392.500 C529.500,390.500 529.500,387.500 530,385.500Z" style="stroke-width:1.100"/>
<ellipse class="pw" cx="541" cy="390.300" rx="3" ry="3.600"/><path class="pt" d="M531,387 C534,385.500 538,385.500 542,386.500 M534,388.500 l0,4.500"/>
<!-- right block -->
<path class="pw" d="M560,379.500 C561,377 564,376.300 567,376.800 L571.500,378.500 L573.200,382 L572,386 L567.500,388 L562.500,387 C560,385 559.500,382 560,379.500Z" style="stroke-width:1.100"/>
<path class="pt" d="M561.500,381 C564,379.500 568,380 571,381.500 M565,383 l0,4"/><ellipse class="pt" cx="568.500" cy="384.500" rx="1.800" ry="2"/>
</g>

<!-- ===== clips ===== -->
<defs>
<g id="clip">
<path d="M651,272.300 C652.500,277 656.500,280.800 662,283.300 C667,285.300 672.500,285.800 677.500,284.600" stroke="#2a2a2a" stroke-width="1.900" fill="none" stroke-linecap="round"/>
<path d="M652.500,270.800 C654,275.500 658,279 663,281.300 C667.500,283.200 672,283.600 676,283" stroke="#555" stroke-width=".7" fill="none"/>
<path d="M671.800,275.300 C669,271 664.500,267.800 659.500,266.600 C655,265.600 650.500,266.300 648.800,269 C647.800,271 648.800,273 651,274.300 L652.300,272.300 C651.300,271.300 651.500,270.300 652.500,269.800 C655,269 658.500,269.500 662,271.200 C665.500,273 668,275.500 669.700,278 Z" fill="#fff" stroke="#2a2a2a" stroke-width=".9" stroke-linejoin="round"/>
<path d="M662.500,268.800 l.8,3" stroke="#444" stroke-width=".6" fill="none"/>
</g>
</defs>
<use href="#clip"/>
<use href="#clip" transform="translate(-22.300,66.800)"/>
<use href="#clip" transform="translate(13.600,68.800)"/>

<g>
<rect x="447.05" y="53.90" width="18" height="17.3" fill="#e6e6e6"/><rect x="464.75" y="53.10" width="1.5" height="19.3" fill="#7c7c7c"/><rect x="446.25" y="70.90" width="20" height="1.5" fill="#7c7c7c"/><text transform="translate(456.85,67.70) scale(.9,1)" class="n">10</text><rect x="518.90" y="135.80" width="18" height="17.3" fill="#e6e6e6"/><rect x="536.60" y="135.00" width="1.5" height="19.3" fill="#7c7c7c"/><rect x="518.10" y="152.80" width="20" height="1.5" fill="#7c7c7c"/><text transform="translate(528.70,149.60) scale(.9,1)" class="n">1</text><rect x="33.90" y="168.90" width="18" height="17.3" fill="#e6e6e6"/><rect x="51.60" y="168.10" width="1.5" height="19.3" fill="#7c7c7c"/><rect x="33.10" y="185.90" width="20" height="1.5" fill="#7c7c7c"/><text transform="translate(43.70,182.70) scale(.9,1)" class="n">15</text><rect x="268.90" y="183.05" width="18" height="17.3" fill="#e6e6e6"/><rect x="286.60" y="182.25" width="1.5" height="19.3" fill="#7c7c7c"/><rect x="268.10" y="200.05" width="20" height="1.5" fill="#7c7c7c"/><text transform="translate(278.70,196.85) scale(.9,1)" class="n">6</text><rect x="586.80" y="179.90" width="18" height="17.3" fill="#e6e6e6"/><rect x="604.50" y="179.10" width="1.5" height="19.3" fill="#7c7c7c"/><rect x="586.00" y="196.90" width="20" height="1.5" fill="#7c7c7c"/><text transform="translate(596.60,193.70) scale(.9,1)" class="n">5</text><rect x="283.90" y="213.05" width="18" height="17.3" fill="#e6e6e6"/><rect x="301.60" y="212.25" width="1.5" height="19.3" fill="#7c7c7c"/><rect x="283.10" y="230.05" width="20" height="1.5" fill="#7c7c7c"/><text transform="translate(293.70,226.85) scale(.9,1)" class="n">3</text><rect x="647.70" y="229.80" width="18" height="17.3" fill="#e6e6e6"/><rect x="665.40" y="229.00" width="1.5" height="19.3" fill="#7c7c7c"/><rect x="646.90" y="246.80" width="20" height="1.5" fill="#7c7c7c"/><text transform="translate(657.50,243.60) scale(.9,1)" class="n">13</text><rect x="17.05" y="257.05" width="18" height="17.3" fill="#e6e6e6"/><rect x="34.75" y="256.25" width="1.5" height="19.3" fill="#7c7c7c"/><rect x="16.25" y="274.05" width="20" height="1.5" fill="#7c7c7c"/><text transform="translate(26.85,270.85) scale(.9,1)" class="n">17</text><rect x="314.80" y="267.70" width="18" height="17.3" fill="#e6e6e6"/><rect x="332.50" y="266.90" width="1.5" height="19.3" fill="#7c7c7c"/><rect x="314.00" y="284.70" width="20" height="1.5" fill="#7c7c7c"/><text transform="translate(324.60,281.50) scale(.9,1)" class="n">11</text><rect x="373.90" y="267.70" width="18" height="17.3" fill="#e6e6e6"/><rect x="391.60" y="266.90" width="1.5" height="19.3" fill="#7c7c7c"/><rect x="373.10" y="284.70" width="20" height="1.5" fill="#7c7c7c"/><text transform="translate(383.70,281.50) scale(.9,1)" class="n">2</text><rect x="15.20" y="288.30" width="18" height="17.3" fill="#e6e6e6"/><rect x="32.90" y="287.50" width="1.5" height="19.3" fill="#7c7c7c"/><rect x="14.40" y="305.30" width="20" height="1.5" fill="#7c7c7c"/><text transform="translate(25.00,302.10) scale(.9,1)" class="n">14</text><rect x="659.90" y="302.05" width="18" height="17.3" fill="#e6e6e6"/><rect x="677.60" y="301.25" width="1.5" height="19.3" fill="#7c7c7c"/><rect x="659.10" y="319.05" width="20" height="1.5" fill="#7c7c7c"/><text transform="translate(669.70,315.85) scale(.9,1)" class="n">12</text><rect x="103.05" y="318.90" width="18" height="17.3" fill="#e6e6e6"/><rect x="120.75" y="318.10" width="1.5" height="19.3" fill="#7c7c7c"/><rect x="102.25" y="335.90" width="20" height="1.5" fill="#7c7c7c"/><text transform="translate(112.85,332.70) scale(.9,1)" class="n">8</text><rect x="277.05" y="320.20" width="18" height="17.3" fill="#e6e6e6"/><rect x="294.75" y="319.40" width="1.5" height="19.3" fill="#7c7c7c"/><rect x="276.25" y="337.20" width="20" height="1.5" fill="#7c7c7c"/><text transform="translate(286.85,334.00) scale(.9,1)" class="n">14</text><rect x="62.90" y="351.40" width="18" height="17.3" fill="#e6e6e6"/><rect x="80.60" y="350.60" width="1.5" height="19.3" fill="#7c7c7c"/><rect x="62.10" y="368.40" width="20" height="1.5" fill="#7c7c7c"/><text transform="translate(72.70,365.20) scale(.9,1)" class="n">4</text><rect x="157.70" y="372.05" width="18" height="17.3" fill="#e6e6e6"/><rect x="175.40" y="371.25" width="1.5" height="19.3" fill="#7c7c7c"/><rect x="156.90" y="389.05" width="20" height="1.5" fill="#7c7c7c"/><text transform="translate(167.50,385.85) scale(.9,1)" class="n">9</text><rect x="87.05" y="402.70" width="18" height="17.3" fill="#e6e6e6"/><rect x="104.75" y="401.90" width="1.5" height="19.3" fill="#7c7c7c"/><rect x="86.25" y="419.70" width="20" height="1.5" fill="#7c7c7c"/><text transform="translate(96.85,416.50) scale(.9,1)" class="n">14</text><rect x="289.90" y="426.80" width="18" height="17.3" fill="#e6e6e6"/><rect x="307.60" y="426.00" width="1.5" height="19.3" fill="#7c7c7c"/><rect x="289.10" y="443.80" width="20" height="1.5" fill="#7c7c7c"/><text transform="translate(299.70,440.60) scale(.9,1)" class="n">7</text>
</g>
<text x="451.5" y="126.2" style="font-family:'Liberation Sans',sans-serif;font-weight:bold;font-size:10.2px;fill:#000">TANK</text>
</svg>
</body></html>
